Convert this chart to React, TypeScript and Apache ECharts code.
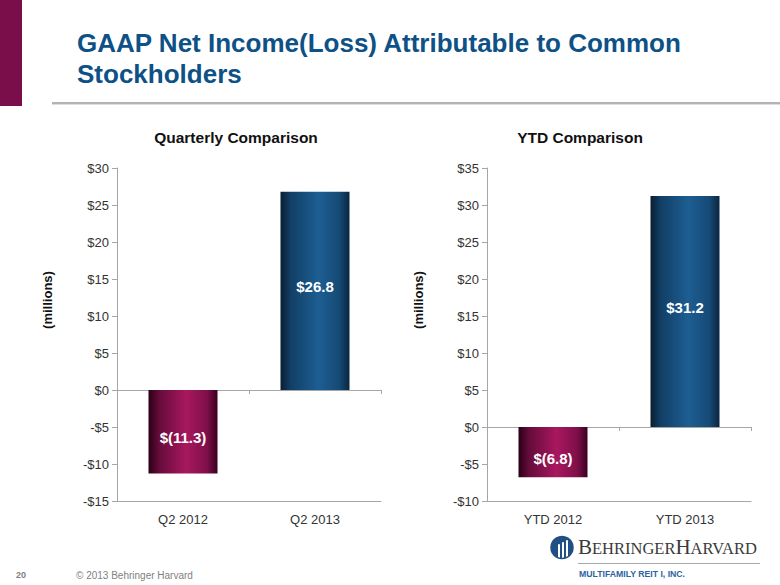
import React, { useEffect, useRef } from "react";
import * as echarts from "echarts";

// ---- Data ----
const quarterlyCategories = ["Q2 2012", "Q2 2013"];
const quarterlyValues = [-11.3, 26.8];
const ytdCategories = ["YTD 2012", "YTD 2013"];
const ytdValues = [-6.8, 31.2];
const quarterlyAxis = { min: -15, max: 30, interval: 5 };
const ytdAxis = { min: -10, max: 35, interval: 5 };
const chartTitles = ["Quarterly Comparison", "YTD Comparison"];
const axisName = "(millions)";
const mainTitleLines = ["GAAP Net Income(Loss) Attributable to Common", "Stockholders"];

const FONT = '"Liberation Sans", Arial, Helvetica, sans-serif';
const SERIF = '"Liberation Serif", "Times New Roman", serif';
const AXIS_COLOR = "#a6a6a6";
const TEXT_COLOR = "#333333";

const blueGrad = {
  type: "linear", x: 0, y: 0, x2: 1, y2: 0,
  colorStops: [
    { offset: 0, color: "#0a1e31" },
    { offset: 0.15, color: "#123f66" },
    { offset: 0.55, color: "#1d5e92" },
    { offset: 0.85, color: "#164a76" },
    { offset: 1, color: "#0b2640" },
  ],
};
const maroonGrad = {
  type: "linear", x: 0, y: 0, x2: 1, y2: 0,
  colorStops: [
    { offset: 0, color: "#2a0016" },
    { offset: 0.15, color: "#650b3a" },
    { offset: 0.55, color: "#a8185f" },
    { offset: 0.85, color: "#7e0f49" },
    { offset: 1, color: "#3a0020" },
  ],
};

const fmtBar = (v: number) => (v < 0 ? `$(${Math.abs(v).toFixed(1)})` : `$${v.toFixed(1)}`);
const fmtTick = (v: number) => (v < 0 ? `-$${-v}` : `$${v}`);

function barData(values: number[]) {
  return values.map((v) => ({
    value: v,
    itemStyle: { color: v < 0 ? maroonGrad : blueGrad },
    label: { offset: [0, v < 0 ? 6 : -4] },
  }));
}

const grids = [
  { left: 117, top: 168, width: 264, height: 333 },
  { left: 487, top: 168, width: 264, height: 333 },
];

function xAxes(gridIndex: number, cats: string[]) {
  return [
    {
      type: "category",
      gridIndex,
      data: cats,
      position: "bottom",
      axisLine: { onZero: false, lineStyle: { color: AXIS_COLOR, width: 1 } },
      axisTick: { show: false },
      axisLabel: { margin: 12, fontSize: 13, color: TEXT_COLOR, fontFamily: FONT },
    },
    {
      type: "category",
      gridIndex,
      data: cats,
      position: "top",
      axisLine: { onZero: true, lineStyle: { color: AXIS_COLOR, width: 1 } },
      axisTick: { show: true, inside: true, length: 4, lineStyle: { color: AXIS_COLOR } },
      axisLabel: { show: false },
    },
  ];
}

function yAxis(gridIndex: number, ax: { min: number; max: number; interval: number }) {
  return {
    type: "value",
    gridIndex,
    min: ax.min,
    max: ax.max,
    interval: ax.interval,
    axisLine: { show: true, lineStyle: { color: AXIS_COLOR } },
    axisTick: { show: true, length: 5, lineStyle: { color: AXIS_COLOR } },
    splitLine: { show: false },
    axisLabel: { formatter: fmtTick, fontSize: 13, color: TEXT_COLOR, fontFamily: FONT, margin: 8 },
  };
}

function barSeries(xAxisIndex: number, yAxisIndex: number, values: number[]) {
  return {
    type: "bar",
    xAxisIndex,
    yAxisIndex,
    barWidth: 69,
    data: barData(values),
    label: {
      show: true,
      position: "inside",
      color: "#ffffff",
      fontWeight: "bold",
      fontSize: 15,
      fontFamily: FONT,
      formatter: (p: any) => fmtBar(p.value),
    },
  };
}

const graphic: any[] = [
  { type: "rect", shape: { x: 0, y: 0, width: 22, height: 106 }, style: { fill: "#7a0e4b" } },
  {
    type: "text", x: 77, y: 43,
    style: { text: mainTitleLines[0], fontSize: 26, fontWeight: "bold", fontFamily: FONT, fill: "#0e5186", verticalAlign: "middle", align: "left" },
  },
  {
    type: "text", x: 77, y: 74,
    style: { text: mainTitleLines[1], fontSize: 26, fontWeight: "bold", fontFamily: FONT, fill: "#0e5186", verticalAlign: "middle", align: "left" },
  },
  { type: "rect", shape: { x: 52, y: 102, width: 728, height: 2 }, style: { fill: "#b3b3b3" } },
  { type: "rect", shape: { x: 52, y: 104, width: 728, height: 1 }, style: { fill: "#dedede" } },
  {
    type: "text", x: 236, y: 137,
    style: { text: chartTitles[0], fontSize: 15.5, fontWeight: "bold", fontFamily: FONT, fill: "#111", align: "center", verticalAlign: "middle" },
  },
  {
    type: "text", x: 580, y: 137,
    style: { text: chartTitles[1], fontSize: 15.5, fontWeight: "bold", fontFamily: FONT, fill: "#111", align: "center", verticalAlign: "middle" },
  },
  {
    type: "text", x: 47, y: 300, rotation: Math.PI / 2,
    style: { text: axisName, fontSize: 13, fontWeight: "bold", fontFamily: FONT, fill: "#111", align: "center", verticalAlign: "middle" },
  },
  {
    type: "text", x: 418, y: 300, rotation: Math.PI / 2,
    style: { text: axisName, fontSize: 13, fontWeight: "bold", fontFamily: FONT, fill: "#111", align: "center", verticalAlign: "middle" },
  },
  // footer
  {
    type: "text", x: 16, y: 575,
    style: { text: "20", fontSize: 9, fontWeight: "bold", fontFamily: FONT, fill: "#7f7f7f", verticalAlign: "middle" },
  },
  {
    type: "text", x: 76, y: 575,
    style: { text: "© 2013 Behringer Harvard", fontSize: 10, fontFamily: FONT, fill: "#7f7f7f", verticalAlign: "middle" },
  },
  // logo
  { type: "circle", shape: { cx: 562, cy: 547.5, r: 11 }, style: { fill: "#1f4f85" } },
  { type: "rect", shape: { x: 558, y: 544, width: 2, height: 14, r: [1, 1, 0, 0] }, style: { fill: "#ffffff" } },
  { type: "rect", shape: { x: 562, y: 542, width: 2, height: 16, r: [1, 1, 0, 0] }, style: { fill: "#ffffff" } },
  { type: "rect", shape: { x: 566, y: 540, width: 2, height: 18, r: [1, 1, 0, 0] }, style: { fill: "#ffffff" } },
  { type: "circle", shape: { cx: 562, cy: 547.5, r: 11 }, style: { fill: "none", stroke: "#1f4f85", lineWidth: 1.5 } },
  {
    type: "text", x: 578, y: 557,
    style: {
      text: "{b|B}{s|EHRINGER}{b|H}{s|ARVARD}",
      fontFamily: SERIF,
      fill: "#3a3a3a",
      verticalAlign: "bottom",
      rich: {
        b: { fontSize: 21, fontFamily: SERIF, fill: "#3a3a3a", verticalAlign: "bottom" },
        s: { fontSize: 16.5, fontFamily: SERIF, fill: "#3a3a3a", verticalAlign: "bottom" },
      },
    },
  },
  { type: "line", shape: { x1: 578, y1: 563.5, x2: 760, y2: 563.5 }, style: { stroke: "#a8a8a8", lineWidth: 1 } },
  {
    type: "text", x: 579, y: 574,
    style: { text: "MULTIFAMILY REIT I, INC.", fontSize: 8.7, fontWeight: "bold", fontFamily: FONT, fill: "#2b64a0", verticalAlign: "middle" },
  },
];

const option: any = {
  animation: false,
  backgroundColor: "#ffffff",
  grid: grids,
  xAxis: [...xAxes(0, quarterlyCategories), ...xAxes(1, ytdCategories)],
  yAxis: [yAxis(0, quarterlyAxis), yAxis(1, ytdAxis)],
  series: [barSeries(0, 0, quarterlyValues), barSeries(2, 1, ytdValues)],
  graphic,
};

export default function App() {
  const ref = useRef<HTMLDivElement>(null);
  useEffect(() => {
    const chart = echarts.init(ref.current!, null, { renderer: "svg" });
    chart.setOption(option);
    return () => chart.dispose();
  }, []);
  return (
    <div
      ref={ref}
      style={{ position: "fixed", left: 0, top: 0, width: 780, height: 585, background: "#fff" }}
    />
  );
}
